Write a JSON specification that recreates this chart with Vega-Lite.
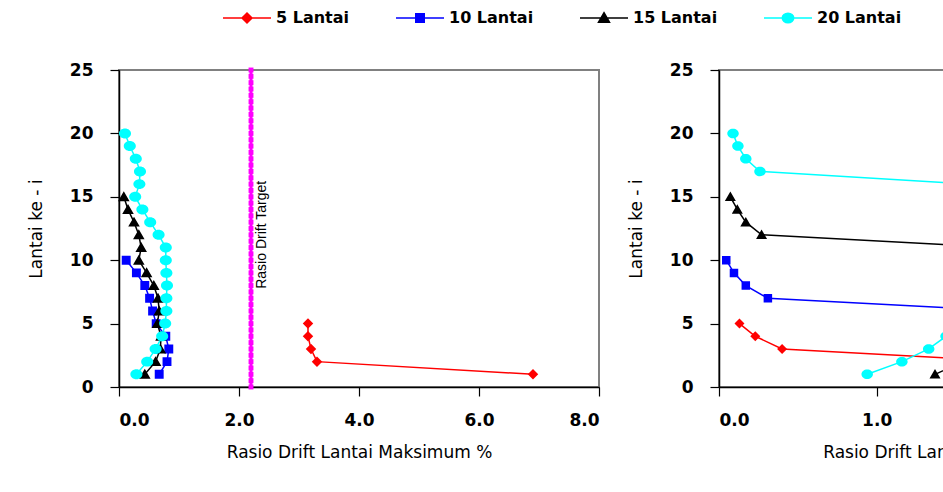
{
  "$schema": "https://vega.github.io/schema/vega-lite/v6.json",
  "background": "white",
  "padding": {"left": 26, "top": 10, "right": 0, "bottom": 0},
  "bounds": "flush",
  "spacing": 120,
  "datasets": {
    "kiri": [
      {"gedung": "5 Lantai", "lantai": 1, "rasio": 6.9},
      {"gedung": "5 Lantai", "lantai": 2, "rasio": 3.3},
      {"gedung": "5 Lantai", "lantai": 3, "rasio": 3.2},
      {"gedung": "5 Lantai", "lantai": 4, "rasio": 3.15},
      {"gedung": "5 Lantai", "lantai": 5, "rasio": 3.15},
      {"gedung": "10 Lantai", "lantai": 1, "rasio": 0.67},
      {"gedung": "10 Lantai", "lantai": 2, "rasio": 0.8},
      {"gedung": "10 Lantai", "lantai": 3, "rasio": 0.83},
      {"gedung": "10 Lantai", "lantai": 4, "rasio": 0.78},
      {"gedung": "10 Lantai", "lantai": 5, "rasio": 0.62},
      {"gedung": "10 Lantai", "lantai": 6, "rasio": 0.56},
      {"gedung": "10 Lantai", "lantai": 7, "rasio": 0.51},
      {"gedung": "10 Lantai", "lantai": 8, "rasio": 0.43},
      {"gedung": "10 Lantai", "lantai": 9, "rasio": 0.29},
      {"gedung": "10 Lantai", "lantai": 10, "rasio": 0.12},
      {"gedung": "15 Lantai", "lantai": 1, "rasio": 0.43},
      {"gedung": "15 Lantai", "lantai": 2, "rasio": 0.61},
      {"gedung": "15 Lantai", "lantai": 3, "rasio": 0.69},
      {"gedung": "15 Lantai", "lantai": 4, "rasio": 0.7},
      {"gedung": "15 Lantai", "lantai": 5, "rasio": 0.64},
      {"gedung": "15 Lantai", "lantai": 6, "rasio": 0.67},
      {"gedung": "15 Lantai", "lantai": 7, "rasio": 0.65},
      {"gedung": "15 Lantai", "lantai": 8, "rasio": 0.58},
      {"gedung": "15 Lantai", "lantai": 9, "rasio": 0.46},
      {"gedung": "15 Lantai", "lantai": 10, "rasio": 0.33},
      {"gedung": "15 Lantai", "lantai": 11, "rasio": 0.37},
      {"gedung": "15 Lantai", "lantai": 12, "rasio": 0.33},
      {"gedung": "15 Lantai", "lantai": 13, "rasio": 0.25},
      {"gedung": "15 Lantai", "lantai": 14, "rasio": 0.15},
      {"gedung": "15 Lantai", "lantai": 15, "rasio": 0.08},
      {"gedung": "20 Lantai", "lantai": 1, "rasio": 0.29},
      {"gedung": "20 Lantai", "lantai": 2, "rasio": 0.47},
      {"gedung": "20 Lantai", "lantai": 3, "rasio": 0.61},
      {"gedung": "20 Lantai", "lantai": 4, "rasio": 0.72},
      {"gedung": "20 Lantai", "lantai": 5, "rasio": 0.77},
      {"gedung": "20 Lantai", "lantai": 6, "rasio": 0.79},
      {"gedung": "20 Lantai", "lantai": 7, "rasio": 0.79},
      {"gedung": "20 Lantai", "lantai": 8, "rasio": 0.8},
      {"gedung": "20 Lantai", "lantai": 9, "rasio": 0.79},
      {"gedung": "20 Lantai", "lantai": 10, "rasio": 0.78},
      {"gedung": "20 Lantai", "lantai": 11, "rasio": 0.78},
      {"gedung": "20 Lantai", "lantai": 12, "rasio": 0.66},
      {"gedung": "20 Lantai", "lantai": 13, "rasio": 0.52},
      {"gedung": "20 Lantai", "lantai": 14, "rasio": 0.39},
      {"gedung": "20 Lantai", "lantai": 15, "rasio": 0.27},
      {"gedung": "20 Lantai", "lantai": 16, "rasio": 0.34},
      {"gedung": "20 Lantai", "lantai": 17, "rasio": 0.35},
      {"gedung": "20 Lantai", "lantai": 18, "rasio": 0.28},
      {"gedung": "20 Lantai", "lantai": 19, "rasio": 0.18},
      {"gedung": "20 Lantai", "lantai": 20, "rasio": 0.1}
    ],
    "kanan": [
      {"gedung": "5 Lantai", "lantai": 1, "rasio": 2.5},
      {"gedung": "5 Lantai", "lantai": 2, "rasio": 1.87},
      {"gedung": "5 Lantai", "lantai": 3, "rasio": 0.4},
      {"gedung": "5 Lantai", "lantai": 4, "rasio": 0.23},
      {"gedung": "5 Lantai", "lantai": 5, "rasio": 0.13},
      {"gedung": "10 Lantai", "lantai": 1, "rasio": 2.3},
      {"gedung": "10 Lantai", "lantai": 2, "rasio": 2.5},
      {"gedung": "10 Lantai", "lantai": 3, "rasio": 2.6},
      {"gedung": "10 Lantai", "lantai": 4, "rasio": 2.5},
      {"gedung": "10 Lantai", "lantai": 5, "rasio": 2.2},
      {"gedung": "10 Lantai", "lantai": 6, "rasio": 1.84},
      {"gedung": "10 Lantai", "lantai": 7, "rasio": 0.31},
      {"gedung": "10 Lantai", "lantai": 8, "rasio": 0.17},
      {"gedung": "10 Lantai", "lantai": 9, "rasio": 0.095},
      {"gedung": "10 Lantai", "lantai": 10, "rasio": 0.046},
      {"gedung": "15 Lantai", "lantai": 1, "rasio": 1.37},
      {"gedung": "15 Lantai", "lantai": 2, "rasio": 1.55},
      {"gedung": "15 Lantai", "lantai": 3, "rasio": 1.75},
      {"gedung": "15 Lantai", "lantai": 4, "rasio": 1.9},
      {"gedung": "15 Lantai", "lantai": 5, "rasio": 2.0},
      {"gedung": "15 Lantai", "lantai": 6, "rasio": 2.05},
      {"gedung": "15 Lantai", "lantai": 7, "rasio": 2.05},
      {"gedung": "15 Lantai", "lantai": 8, "rasio": 2.0},
      {"gedung": "15 Lantai", "lantai": 9, "rasio": 1.95},
      {"gedung": "15 Lantai", "lantai": 10, "rasio": 1.85},
      {"gedung": "15 Lantai", "lantai": 11, "rasio": 1.77},
      {"gedung": "15 Lantai", "lantai": 12, "rasio": 0.27},
      {"gedung": "15 Lantai", "lantai": 13, "rasio": 0.17},
      {"gedung": "15 Lantai", "lantai": 14, "rasio": 0.116},
      {"gedung": "15 Lantai", "lantai": 15, "rasio": 0.072},
      {"gedung": "20 Lantai", "lantai": 1, "rasio": 0.94},
      {"gedung": "20 Lantai", "lantai": 2, "rasio": 1.16},
      {"gedung": "20 Lantai", "lantai": 3, "rasio": 1.33},
      {"gedung": "20 Lantai", "lantai": 4, "rasio": 1.44},
      {"gedung": "20 Lantai", "lantai": 5, "rasio": 1.55},
      {"gedung": "20 Lantai", "lantai": 6, "rasio": 1.65},
      {"gedung": "20 Lantai", "lantai": 7, "rasio": 1.75},
      {"gedung": "20 Lantai", "lantai": 8, "rasio": 1.8},
      {"gedung": "20 Lantai", "lantai": 9, "rasio": 1.85},
      {"gedung": "20 Lantai", "lantai": 10, "rasio": 1.88},
      {"gedung": "20 Lantai", "lantai": 11, "rasio": 1.9},
      {"gedung": "20 Lantai", "lantai": 12, "rasio": 1.88},
      {"gedung": "20 Lantai", "lantai": 13, "rasio": 1.85},
      {"gedung": "20 Lantai", "lantai": 14, "rasio": 1.8},
      {"gedung": "20 Lantai", "lantai": 15, "rasio": 1.7},
      {"gedung": "20 Lantai", "lantai": 16, "rasio": 1.6},
      {"gedung": "20 Lantai", "lantai": 17, "rasio": 0.26},
      {"gedung": "20 Lantai", "lantai": 18, "rasio": 0.17},
      {"gedung": "20 Lantai", "lantai": 19, "rasio": 0.12},
      {"gedung": "20 Lantai", "lantai": 20, "rasio": 0.089}
    ],
    "target": [
      {"rasio": 2.2, "lantai": 0}, {"rasio": 2.2, "lantai": 0.5}, {"rasio": 2.2, "lantai": 1}, {"rasio": 2.2, "lantai": 1.5},
      {"rasio": 2.2, "lantai": 2}, {"rasio": 2.2, "lantai": 2.5}, {"rasio": 2.2, "lantai": 3}, {"rasio": 2.2, "lantai": 3.5},
      {"rasio": 2.2, "lantai": 4}, {"rasio": 2.2, "lantai": 4.5}, {"rasio": 2.2, "lantai": 5}, {"rasio": 2.2, "lantai": 5.5},
      {"rasio": 2.2, "lantai": 6}, {"rasio": 2.2, "lantai": 6.5}, {"rasio": 2.2, "lantai": 7}, {"rasio": 2.2, "lantai": 7.5},
      {"rasio": 2.2, "lantai": 8}, {"rasio": 2.2, "lantai": 8.5}, {"rasio": 2.2, "lantai": 9}, {"rasio": 2.2, "lantai": 9.5},
      {"rasio": 2.2, "lantai": 10}, {"rasio": 2.2, "lantai": 10.5}, {"rasio": 2.2, "lantai": 11}, {"rasio": 2.2, "lantai": 11.5},
      {"rasio": 2.2, "lantai": 12}, {"rasio": 2.2, "lantai": 12.5}, {"rasio": 2.2, "lantai": 13}, {"rasio": 2.2, "lantai": 13.5},
      {"rasio": 2.2, "lantai": 14}, {"rasio": 2.2, "lantai": 14.5}, {"rasio": 2.2, "lantai": 15}, {"rasio": 2.2, "lantai": 15.5},
      {"rasio": 2.2, "lantai": 16}, {"rasio": 2.2, "lantai": 16.5}, {"rasio": 2.2, "lantai": 17}, {"rasio": 2.2, "lantai": 17.5},
      {"rasio": 2.2, "lantai": 18}, {"rasio": 2.2, "lantai": 18.5}, {"rasio": 2.2, "lantai": 19}, {"rasio": 2.2, "lantai": 19.5},
      {"rasio": 2.2, "lantai": 20}, {"rasio": 2.2, "lantai": 20.5}, {"rasio": 2.2, "lantai": 21}, {"rasio": 2.2, "lantai": 21.5},
      {"rasio": 2.2, "lantai": 22}, {"rasio": 2.2, "lantai": 22.5}, {"rasio": 2.2, "lantai": 23}, {"rasio": 2.2, "lantai": 23.5},
      {"rasio": 2.2, "lantai": 24}, {"rasio": 2.2, "lantai": 24.5}, {"rasio": 2.2, "lantai": 25}
    ],
    "label_target": [
      {"rasio": 2.2, "lantai": 12, "teks": "Rasio Drift Target"}
    ]
  },
  "hconcat": [
    {
      "width": 480,
      "height": 317,
      "layer": [
        {
          "data": {"name": "target"},
          "mark": {"type": "line", "color": "#FF00FF", "strokeWidth": 3, "point": {"shape": "square", "size": 24, "filled": true, "color": "#FF00FF"}},
          "encoding": {
            "x": {"field": "rasio", "type": "quantitative", "scale": {"domain": [0, 8], "nice": false}, "axis": {"values": [0, 2, 4, 6, 8], "format": ".1f", "title": "Rasio Drift Lantai Maksimum %"}},
            "y": {"field": "lantai", "type": "quantitative", "scale": {"domain": [0, 25], "nice": false}, "axis": {"values": [0, 5, 10, 15, 20, 25], "format": "d", "title": "Lantai ke - i"}},
            "order": {"field": "lantai", "type": "quantitative"}
          }
        },
        {
          "data": {"name": "label_target"},
          "mark": {"type": "text", "angle": 270, "align": "center", "baseline": "alphabetic", "dy": 15, "font": "Liberation Sans", "fontSize": 14, "color": "black"},
          "encoding": {
            "x": {"field": "rasio", "type": "quantitative"},
            "y": {"field": "lantai", "type": "quantitative"},
            "text": {"field": "teks"}
          }
        },
        {
          "data": {"name": "kiri"},
          "mark": {"type": "line", "strokeWidth": 1.5},
          "encoding": {
            "x": {"field": "rasio", "type": "quantitative"},
            "y": {"field": "lantai", "type": "quantitative"},
            "color": {"field": "gedung", "type": "nominal", "scale": {"domain": ["5 Lantai", "10 Lantai", "15 Lantai", "20 Lantai"], "range": ["#FF0000", "#0000FF", "#000000", "#00FFFF"]}},
            "order": {"field": "lantai", "type": "quantitative"}
          }
        },
        {
          "data": {"name": "kiri"},
          "mark": {"type": "point", "filled": true, "size": 110, "opacity": 1},
          "encoding": {
            "x": {"field": "rasio", "type": "quantitative"},
            "y": {"field": "lantai", "type": "quantitative"},
            "color": {
              "field": "gedung", "type": "nominal",
              "legend": {
                "orient": "none", "legendX": 120, "legendY": -60, "direction": "horizontal", "title": null,
                "labelFont": "DejaVu Sans", "labelFontWeight": "bold", "labelFontSize": 16, "labelColor": "black",
                "symbolSize": 100, "labelOffset": 21, "columnPadding": 43, "padding": 0,
                "encode": {"symbols": {"update": {"shape": {"scale": "shape", "field": "value"}, "stroke": {"scale": "color", "field": "value"}, "strokeWidth": {"value": 1.5}, "fill": {"scale": "color", "field": "value"}, "opacity": {"value": 1}}}}
              }
            },
            "shape": {
              "field": "gedung", "type": "nominal", "legend": null,
              "scale": {
                "domain": ["5 Lantai", "10 Lantai", "15 Lantai", "20 Lantai"],
                "range": [
                  "M-4.8,0H4.8M0,-1L1,0L0,1L-1,0Z",
                  "M-4.8,0H4.8M-0.85,-0.85H0.85V0.85H-0.85Z",
                  "M-4.8,0H4.8M0,-1.05L1.1,0.85H-1.1Z",
                  "M-4.8,0H4.8M-1.15,0A1.15,0.95,0,1,0,1.15,0A1.15,0.95,0,1,0,-1.15,0Z"
                ]
              }
            }
          }
        }
      ]
    },
    {
      "width": 473,
      "height": 317,
      "layer": [
        {
          "data": {"name": "kanan"},
          "mark": {"type": "line", "strokeWidth": 1.5, "clip": true},
          "encoding": {
            "x": {"field": "rasio", "type": "quantitative", "scale": {"domain": [0, 3], "nice": false}, "axis": {"values": [0, 1, 2, 3], "format": ".1f", "title": "Rasio Drift Lantai Maksimum %"}},
            "y": {"field": "lantai", "type": "quantitative", "scale": {"domain": [0, 25], "nice": false}, "axis": {"values": [0, 5, 10, 15, 20, 25], "format": "d", "title": "Lantai ke - i"}},
            "color": {"field": "gedung", "type": "nominal"},
            "order": {"field": "lantai", "type": "quantitative"}
          }
        },
        {
          "data": {"name": "kanan"},
          "mark": {"type": "point", "filled": true, "size": 100, "opacity": 1, "clip": true},
          "encoding": {
            "x": {"field": "rasio", "type": "quantitative"},
            "y": {"field": "lantai", "type": "quantitative"},
            "color": {"field": "gedung", "type": "nominal"},
            "shape": {"field": "gedung", "type": "nominal", "legend": null}
          }
        }
      ]
    }
  ],
  "config": {
    "font": "DejaVu Sans",
    "view": {"stroke": "#808080", "strokeWidth": 2},
    "axis": {
      "grid": false,
      "domainColor": "black",
      "domainWidth": 1.5,
      "tickColor": "black",
      "tickWidth": 1.2,
      "tickSize": 9,
      "labelFont": "DejaVu Sans",
      "labelFontWeight": "bold",
      "labelFontSize": 17,
      "labelColor": "black",
      "titleFont": "DejaVu Sans",
      "titleFontWeight": "normal",
      "titleFontSize": 17,
      "titleColor": "black"
    },
    "axisX": {"labelPadding": 16, "titlePadding": 16},
    "axisY": {"labelPadding": 17, "titlePadding": 24, "labelAngle": 0}
  }
}
